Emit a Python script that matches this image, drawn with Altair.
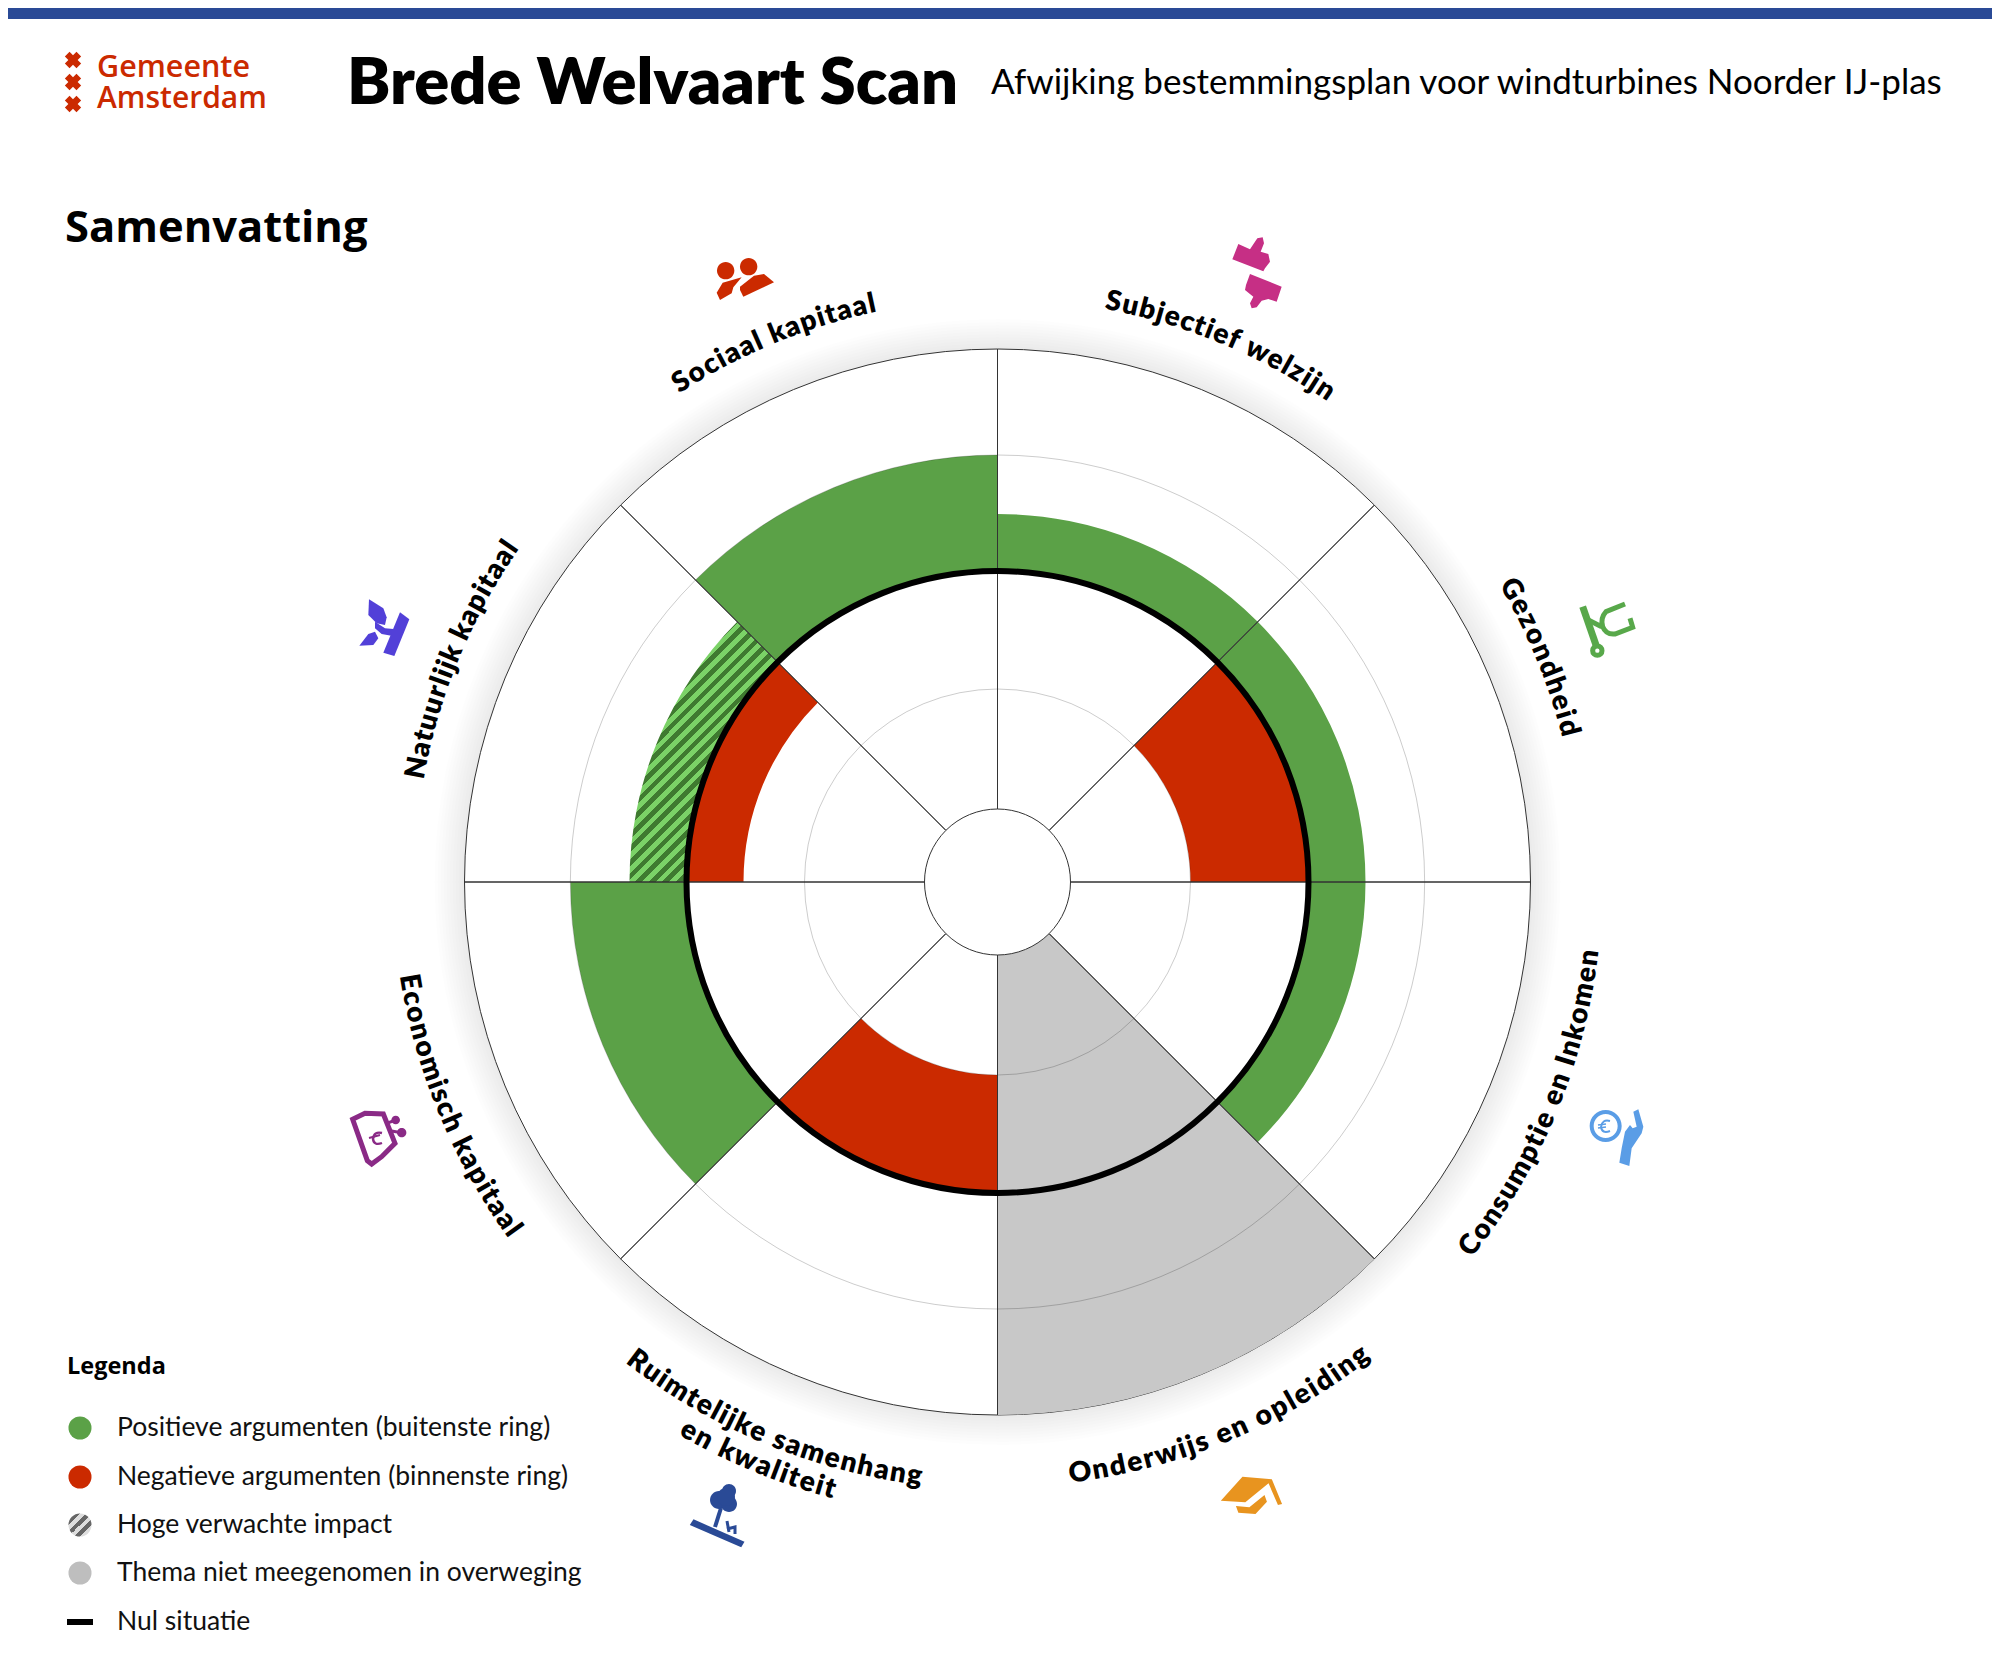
import math
import re
import altair as alt
import pandas as pd

# ---- values -----------------------------------------------------------
themes = ["Subjectief welzijn", "Gezondheid", "Consumptie en Inkomen", "Onderwijs en opleiding",
          "Ruimtelijke samenhang|en kwaliteit", "Economisch kapitaal", "Natuurlijk kapitaal", "Sociaal kapitaal"]
positive = [1, 1, 1, 0, 0, 2, 1, 2]
negative = [0, -2, 0, 0, -2, 0, -1, 0]
high_impact = [0, 0, 0, 0, 0, 0, 1, 0]
not_considered = [0, 0, 0, 1, 0, 0, 0, 0]
legend_labels = ["Positieve argumenten (buitenste ring)", "Negatieve argumenten (binnenste ring)",
                 "Hoge verwachte impact", "Thema niet meegenomen in overweging", "Nul situatie"]
label_span = {"Subjectief welzijn": 246, "Gezondheid": 168, "Consumptie en Inkomen": 332,
              "Onderwijs en opleiding": 325, "Ruimtelijke samenhang": 319, "en kwaliteit": 165,
              "Economisch kapitaal": 283, "Natuurlijk kapitaal": 255, "Sociaal kapitaal": 218}

GREEN, RED, GREY, BLUE = "#5ba147", "#cb2a00", "#c8c8c8", "#2a4a96"
SANS = "Lato"
WIDE = "Open Sans"
CX, CY = 997.5 - 8, 882 - 8

rad_scale = alt.Scale(domain=[-3, -2, -1, 0, 1, 2, 3], range=[73, 193, 254, 311, 368, 427, 533])
th_scale = alt.Scale(domain=[0, 8], range=[0, 2 * math.pi])


def polar(base, t0="t0", t1="t1", r="r", r0="r0"):
    return base.encode(
        x=alt.value(CX), y=alt.value(CY),
        theta=alt.Theta(f"{t0}:Q", scale=th_scale, stack=False), theta2=f"{t1}:Q",
        radius=alt.Radius(f"{r}:Q", scale=rad_scale), radius2=f"{r0}:Q")


def solid(base):
    return base.encode(
        x=alt.value(CX), y=alt.value(CY),
        theta=alt.Theta("t0:Q", scale=th_scale, stack=False), theta2="t1:Q",
        radius=alt.Radius("r:Q", scale=rad_scale), radius2=alt.value(0))


# ---- wedges ------------------------------------------------------------
rows = []
for i in range(len(themes)):
    if not_considered[i]:
        rows.append(dict(t0=i, t1=i + 1, r0=-3, r=3, c=GREY))
    if positive[i] and not high_impact[i]:
        rows.append(dict(t0=i, t1=i + 1, r0=0, r=positive[i], c=GREEN))
    if negative[i]:
        rows.append(dict(t0=i, t1=i + 1, r0=negative[i], r=0, c=RED))
wedges = polar(alt.Chart(pd.DataFrame(rows)).mark_arc()).encode(fill=alt.Fill("c:N", scale=None))


def hatch(n, light, dark, x2, y2):
    stops = []
    for k in range(n):
        stops += [alt.GradientStop(color=light, offset=k / n),
                  alt.GradientStop(color=light, offset=(k + .5) / n),
                  alt.GradientStop(color=dark, offset=(k + .5) / n),
                  alt.GradientStop(color=dark, offset=(k + 1) / n)]
    return alt.LinearGradient(gradient="linear", stops=stops, x1=0, y1=0, x2=x2, y2=y2)


bw, bh = 148.0, 260.0
ka = (bw + bh) / (bw * bw + bh * bh)
hatched_rows = [dict(t0=i, t1=i + 1, r0=0, r=positive[i]) for i in range(len(themes)) if high_impact[i]]
hatched = polar(alt.Chart(pd.DataFrame(hatched_rows)).mark_arc(
    fill=hatch(30, "#7bd267", "#3f7a30", ka * bw, ka * bh)))

disc = solid(alt.Chart(pd.DataFrame([dict(t0=0, t1=8, r=3)])).mark_arc(
    fill="white", stroke="#333333", strokeWidth=1))
shadow_df = pd.DataFrame([dict(t0=0, t1=8, rr=533 + 3 * k) for k in range(1, 11)])
shadow = alt.Chart(shadow_df).mark_arc(fill="black", opacity=0.006).encode(
    x=alt.value(CX), y=alt.value(CY),
    theta=alt.Theta("t0:Q", scale=th_scale, stack=False), theta2="t1:Q",
    radius=alt.Radius("rr:Q", scale=None), radius2=alt.value(0))
grid = solid(alt.Chart(pd.DataFrame([dict(t0=0, t1=8, r=v) for v in (-2, 2)])).mark_arc(
    fill="white", fillOpacity=0, stroke="black", strokeOpacity=0.2, strokeWidth=1))
spokes = polar(alt.Chart(pd.DataFrame([dict(t0=i, t1=i, r0=-3, r=3) for i in range(8)])).mark_arc(
    stroke="#333333", strokeWidth=1))
hub = solid(alt.Chart(pd.DataFrame([dict(t0=0, t1=8, r=-3)])).mark_arc(
    fill="white", stroke="#333333", strokeWidth=1))
zero_ring = solid(alt.Chart(pd.DataFrame([dict(t0=0, t1=8, r=0)])).mark_arc(
    fill="white", fillOpacity=0, stroke="black", strokeWidth=6))

# ---- curved labels -----------------------------------------------------
EM = dict(a=.50, b=.56, c=.46, d=.56, e=.52, f=.33, g=.51, h=.55, i=.25, j=.25, k=.52, l=.25, m=.82, n=.55,
          o=.57, p=.56, r=.38, s=.42, t=.35, u=.55, v=.52, w=.78, z=.46, S=.55, G=.70, C=.65, O=.78, I=.28,
          R=.61, E=.56, N=.74)
EM[" "] = .23
LABEL_SIZE = 28
chars = []
for i, name in enumerate(themes):
    mid = (i + .5) * 45
    lower = 90 < mid < 270
    parts = name.split("|")
    for j, part in enumerate(parts):
        if len(parts) > 1:
            radius = 600 + 30 * j
        else:
            radius = 597 if lower else 591
        plain = sum(EM[ch] * LABEL_SIZE for ch in part)
        track = (label_span[part] - plain) / (len(part) - 1)
        adv = [EM[ch] * LABEL_SIZE + track for ch in part]
        total = sum(adv)
        pos = -total / 2
        for ch, a in zip(part, adv):
            off = (pos + a / 2) / radius * 180 / math.pi
            pos += a
            deg = mid - off if lower else mid + off
            rot = deg - 180 if lower else deg
            chars.append(dict(ch=ch, t=deg / 45, rr=radius, rot=rot % 360))
curved = alt.Chart(pd.DataFrame(chars)).mark_text(
    font=SANS, fontWeight=800, fontSize=LABEL_SIZE, align="center", baseline="middle", color="black").encode(
    x=alt.value(CX), y=alt.value(CY),
    theta=alt.Theta("t:Q", scale=th_scale, stack=False),
    radius=alt.Radius("rr:Q", scale=None),
    angle=alt.Angle("rot:Q", scale=None), text="ch:N")


# ---- icons -------------------------------------------------------------
def circ(cx, cy, r, rev=False):
    k = .5523 * r
    if not rev:
        return (f"M{cx+r} {cy}C{cx+r} {cy+k} {cx+k} {cy+r} {cx} {cy+r}C{cx-k} {cy+r} {cx-r} {cy+k} {cx-r} {cy}"
                f"C{cx-r} {cy-k} {cx-k} {cy-r} {cx} {cy-r}C{cx+k} {cy-r} {cx+r} {cy-k} {cx+r} {cy}Z")
    return (f"M{cx+r} {cy}C{cx+r} {cy-k} {cx+k} {cy-r} {cx} {cy-r}C{cx-k} {cy-r} {cx-r} {cy-k} {cx-r} {cy}"
            f"C{cx-r} {cy+k} {cx-k} {cy+r} {cx} {cy+r}C{cx+k} {cy+r} {cx+r} {cy+k} {cx+r} {cy}Z")


icon_rows = []


def icon(d, color, ox=0, oy=0, sx=1, sy=1, sw=0):
    nums = [float(v) for v in re.findall(r"-?\d+\.?\d*", d)]
    xs = [ox + v / sx for v in nums[0::2]]
    ys = [oy + v / sy for v in nums[1::2]]
    cx, cy = (min(xs) + max(xs)) / 2, (min(ys) + max(ys)) / 2
    half = max(max(xs) - min(xs), max(ys) - min(ys)) / 2 or 1
    it = iter(range(len(nums)))

    def rep(m):
        i = next(it)
        v = float(m.group())
        if i % 2 == 0:
            return f"{(ox + v / sx - cx) / half:.4f}"
        return f"{(oy + v / sy - cy) / half:.4f}"
    path = re.sub(r"-?\d+\.?\d*", rep, d)
    icon_rows.append(dict(px=cx - 8, py=cy - 8, shape=path, size=(2 * half) ** 2, color=color, sw=sw))


# social
Z8 = dict(ox=680, oy=230, sx=3, sy=3)
icon(circ(137, 122, 26), RED, **Z8)
icon(circ(206, 110, 26), RED, **Z8)
icon("M110 188L128 158L185 142L160 172L155 190L120 210Z", RED, **Z8)
icon("M180 170L222 137L252 132L282 157L190 200L180 180Z", RED, **Z8)
# thumbs
Z7 = dict(ox=1200, oy=230, sx=3, sy=3)
PINK = "#c62f85"
icon("M115 42L150 58L172 25L188 22L192 40L182 65L205 72L210 95L195 115L190 124L97 88Z", PINK, **Z7)
icon("M150 132L245 170L230 215L205 207L185 212L170 232L155 235L150 220L160 200L135 180L138 165Z", PINK, **Z7)
# stethoscope
SG = "#58a84a"
icon("M1148 1130L1188 1245", SG, sw=7, **Z7)
icon(circ(1192, 1262, 14), SG, sw=5, **Z7)
icon("M1275 1122L1218 1145Q1200 1165 1208 1190Q1218 1215 1245 1212L1298 1192L1290 1165", SG, sw=5, **Z7)
icon("M1165 1170L1205 1190", SG, sw=5, **Z7)
# hand and coin
Z9 = dict(ox=1500, oy=1060, sx=3, sy=3)
HB = "#5a9de6"
icon(circ(317, 198, 48) + circ(317, 198, 36, True), HB, **Z9)
icon("M400 155L415 148L430 200L425 220L395 265L388 318L358 308L365 265L375 215L390 195L398 205L410 200Z", HB, **Z9)
icon("M1610 1121Q1602 1119 1601 1127Q1602 1134 1610 1131", HB, sw=2)
icon("M1598 1125L1606 1124", HB, sw=1.6)
icon("M1598 1128L1606 1127", HB, sw=1.6)
# graduation cap
Z6 = dict(ox=680, oy=1380, sx=2.45, sy=3)
OR = "#e8941f"
icon("M1378 290L1450 298L1475 372L1465 375L1442 310L1385 367L1325 362Z", OR, **Z6)
icon("M1362 378L1395 382L1432 345L1438 365L1410 402L1368 398Z", OR, **Z6)
# tree
icon("M33 418L158 485L150 502L24 435Z", BLUE, **Z6)
for c in ((729, 1491, 7), (719, 1500, 9), (729, 1504, 8), (726, 1497, 9)):
    icon(circ(*c), BLUE)
icon("M721 1508L715 1527", BLUE, sw=4)
icon("M727 1521L729 1532", BLUE, sw=3)
icon("M727 1529L735 1527L735 1534", BLUE, sw=3)
# wallet
Z10 = dict(ox=330, oy=1090, sx=3, sy=3)
PU = "#8a2a86"
icon("M68 88L105 70L160 72L195 160L155 200L125 222L112 212Z", PU, sw=5, **Z10)
icon(circ(197, 90, 13), PU, **Z10)
icon(circ(215, 128, 14), PU, **Z10)
icon("M170 100L197 90", PU, sw=3, **Z10)
icon("M180 122L215 128", PU, sw=3, **Z10)
icon("M382 1133Q374 1131 373 1139Q374 1146 382 1143", PU, sw=2.4)
icon("M369 1138L380 1135", PU, sw=2)
# plant
Z5 = dict(ox=340, oy=560, sx=3, sy=3)
VI = "#5240d8"
icon("M87 118L130 145L140 172L135 195L110 190L85 165Z", VI, **Z5)
icon("M58 257L85 222L105 215L115 235L100 255Z", VI, **Z5)
icon("M105 185L135 205L160 207L158 228L125 222L105 205Z", VI, **Z5)
icon("M180 157L208 178L163 288L130 278Z", VI, **Z5)

icons_df = pd.DataFrame(icon_rows)
icon_enc = dict(x=alt.X("px:Q", scale=None, axis=None), y=alt.Y("py:Q", scale=None, axis=None),
                shape=alt.Shape("shape:N", scale=None, legend=None), size=alt.Size("size:Q", scale=None, legend=None))
fill_icons = alt.Chart(icons_df[icons_df.sw == 0]).mark_point(filled=True, opacity=1, strokeWidth=0).encode(
    fill=alt.Fill("color:N", scale=None), **icon_enc)
stroke_icons = alt.Chart(icons_df[icons_df.sw > 0]).mark_point(filled=False, opacity=1).encode(
    stroke=alt.Stroke("color:N", scale=None), strokeWidth=alt.StrokeWidth("sw:Q", scale=None), **icon_enc)


# ---- plain text --------------------------------------------------------
def txt(s, x, y, size, weight, color="black", font=SANS):
    return alt.Chart(pd.DataFrame([dict(s=s, px=x - 8, py=y - 8)])).mark_text(
        font=font, fontSize=size, fontWeight=weight, color=color, align="left", baseline="alphabetic").encode(
        x=alt.X("px:Q", scale=None, axis=None), y=alt.Y("py:Q", scale=None, axis=None), text="s:N")


texts = [
    txt("Brede Welvaart Scan", 347, 104, 65, 800),
    txt("Afwijking bestemmingsplan voor windturbines Noorder IJ-plas", 991, 94, 35, 400),
    txt("Samenvatting", 65, 242, 43.5, 700, font=WIDE),
    txt("Gemeente", 97, 77, 30.5, 600, RED, font=WIDE),
    txt("Amsterdam", 97, 108, 30, 600, RED, font=WIDE),
    txt("Legenda", 67, 1374, 23.5, 700, font=WIDE),
]

legend_y = [1428, 1477, 1525, 1573, 1622]
legend_text = alt.Chart(pd.DataFrame(dict(s=legend_labels, py=[v - 8 for v in legend_y], px=[117 - 8] * 5))).mark_text(
    font=SANS, fontSize=26.5, fontWeight=400, color="#111111", align="left", baseline="middle").encode(
    x=alt.X("px:Q", scale=None, axis=None), y=alt.Y("py:Q", scale=None, axis=None), text="s:N")
dots = alt.Chart(pd.DataFrame(dict(px=[72, 72, 72], py=[legend_y[0] - 8, legend_y[1] - 8, legend_y[3] - 8],
                                   c=[GREEN, RED, "#bebebe"]))).mark_point(
    filled=True, opacity=1, strokeWidth=0, shape="circle", size=531).encode(
    x=alt.X("px:Q", scale=None, axis=None), y=alt.Y("py:Q", scale=None, axis=None), fill=alt.Fill("c:N", scale=None))
hatch_dot = alt.Chart(pd.DataFrame(dict(px=[72], py=[legend_y[2] - 8]))).mark_point(
    filled=True, opacity=1, strokeWidth=0, shape="circle", size=531, fill=hatch(4, "#dddddd", "#666666", 1, 1)).encode(
    x=alt.X("px:Q", scale=None, axis=None), y=alt.Y("py:Q", scale=None, axis=None))
dash = alt.Chart(pd.DataFrame(dict(px=[59], p2=[85], py=[legend_y[4] - 8]))).mark_rule(
    color="black", strokeWidth=6).encode(
    x=alt.X("px:Q", scale=None, axis=None), x2="p2:Q", y=alt.Y("py:Q", scale=None, axis=None))

band = alt.Chart(pd.DataFrame(dict(px=[0], p2=[1984], py=[0], p3=[11]))).mark_rect(color=BLUE).encode(
    x=alt.X("px:Q", scale=None, axis=None), x2="p2:Q",
    y=alt.Y("py:Q", scale=None, axis=None), y2="p3:Q")
crosses = alt.Chart(pd.DataFrame(dict(px=[65, 65, 65], py=[52, 74, 96]))).mark_point(
    filled=True, opacity=1, strokeWidth=0, shape="cross", size=270, angle=45, fill=RED).encode(
    x=alt.X("px:Q", scale=None, axis=None), y=alt.Y("py:Q", scale=None, axis=None))

chart = alt.layer(
    band, crosses, *texts, shadow, disc, wedges, hatched, grid, spokes, hub, zero_ring, curved,
    fill_icons, stroke_icons, dots, hatch_dot, dash, legend_text
).properties(width=1984, height=1640, padding=0, autosize=alt.AutoSizeParams(type="none"),
             background="white").configure_view(stroke=None)

chart.save("out.html", embed_options={"renderer": "svg", "actions": False})
